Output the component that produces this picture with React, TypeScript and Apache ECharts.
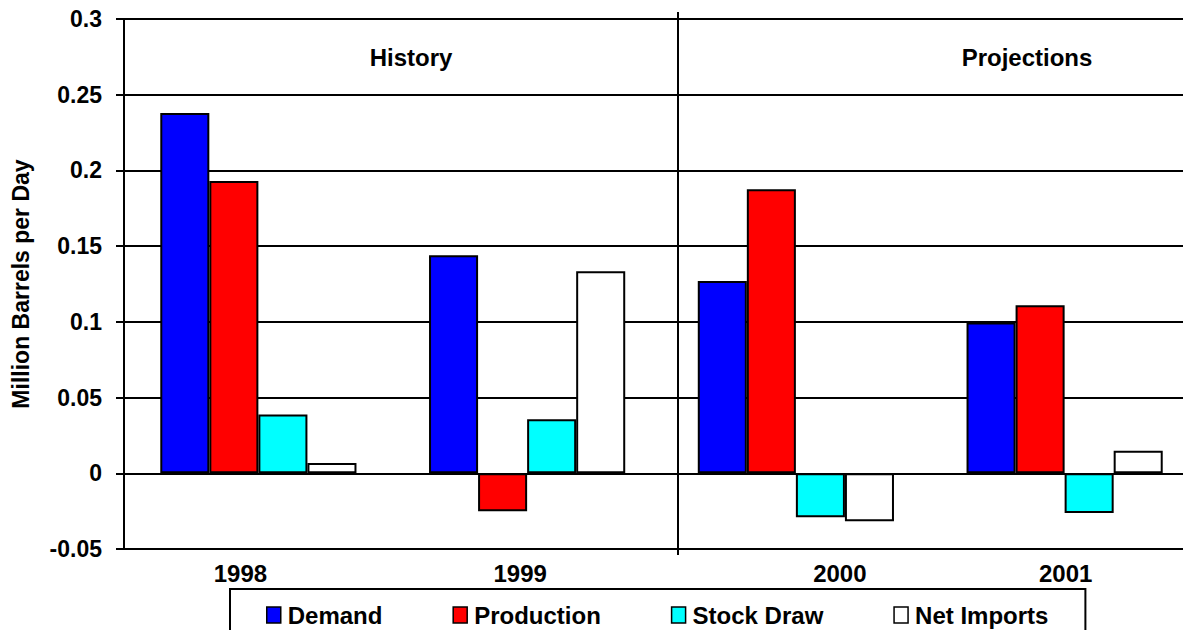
import React, { useEffect, useRef } from "react";
import * as echarts from "echarts";

const years = ["1998", "1999", "2000", "2001"];
const demand = [0.238, 0.144, 0.127, 0.0995];
const production = [0.193, -0.025, 0.1875, 0.111];
const stockDraw = [0.0388, 0.0357, -0.029, -0.0262];
const netImports = [0.0068, 0.1334, -0.0317, 0.0148];
const seriesNames = ["Demand", "Production", "Stock Draw", "Net Imports"];
const seriesColors = ["#0000FF", "#FF0000", "#00FFFF", "#FFFFFF"];
const periodTitles = ["History", "Projections"];
const yAxisTitle = "Million Barrels per Day";
const yMin = -0.05;
const yMax = 0.3;
const yStep = 0.05;

const FONT = '"Liberation Sans", Arial, sans-serif';
const labelShift = [-18, -7, 44, 1];

export default function App() {
  const ref = useRef<HTMLDivElement>(null);
  useEffect(() => {
    if (!ref.current) return;
    const chart = echarts.init(ref.current, null, { renderer: "svg" });
    const allSeries = [demand, production, stockDraw, netImports];
    const rich: Record<string, any> = {};
    labelShift.forEach((s, i) => {
      rich["l" + i] = {
        fontFamily: FONT,
        fontWeight: "bold",
        fontSize: 24,
        color: "#000",
        padding: s < 0 ? [0, -2 * s, 0, 0] : [0, 0, 0, 2 * s],
      };
    });
    chart.setOption({
      animation: false,
      backgroundColor: "#fff",
      title: [
        {
          text: periodTitles[0],
          left: 411,
          top: 45,
          textAlign: "center",
          padding: 0,
          textStyle: { fontFamily: FONT, fontWeight: "bold", fontSize: 24, color: "#000" },
        },
        {
          text: periodTitles[1],
          left: 1027,
          top: 45,
          textAlign: "center",
          padding: 0,
          textStyle: { fontFamily: FONT, fontWeight: "bold", fontSize: 24, color: "#000" },
        },
      ],
      legend: {
        left: 230,
        top: 589,
        orient: "horizontal",
        data: seriesNames,
        icon: "rect",
        itemWidth: 14,
        itemHeight: 16,
        itemGap: 70,
        padding: [14, 37, 14, 36],
        borderColor: "#000",
        borderWidth: 2,
        borderRadius: 0,
        backgroundColor: "#fff",
        selectedMode: false,
        itemStyle: { borderColor: "#000", borderWidth: 1.5 },
        textStyle: {
          fontFamily: FONT,
          fontWeight: "bold",
          fontSize: 24,
          color: "#000",
          padding: [0, 0, 0, 2],
        },
      },
      grid: {
        left: 124,
        right: -16,
        top: 19,
        bottom: 81,
        containLabel: false,
        outerBoundsMode: "none",
      },
      xAxis: {
        type: "category",
        data: years,
        axisLine: { show: true, onZero: false, lineStyle: { color: "#000", width: 2 } },
        axisTick: { show: false },
        axisLabel: {
          margin: 12,
          interval: 0,
          formatter: (v: string, i: number) => `{l${i}|${v}}`,
          rich,
        },
        splitLine: { show: false },
      },
      yAxis: {
        type: "value",
        min: yMin,
        max: yMax,
        interval: yStep,
        name: yAxisTitle,
        nameLocation: "middle",
        nameGap: 92,
        nameTextStyle: { fontFamily: FONT, fontWeight: "bold", fontSize: 23, color: "#000" },
        axisLine: { show: true, lineStyle: { color: "#000", width: 2 } },
        axisTick: { show: true, inside: false, length: 8, lineStyle: { color: "#000", width: 2 } },
        axisLabel: {
          margin: 22,
          fontFamily: FONT,
          fontWeight: "bold",
          fontSize: 23,
          color: "#000",
          formatter: (v: number) => String(parseFloat(v.toFixed(3))),
        },
        splitLine: { show: true, lineStyle: { color: "#000", width: 2 } },
      },
      series: seriesNames.map((name, i) => ({
        name,
        type: "bar",
        data: allSeries[i],
        barGap: "0%",
        barCategoryGap: "27%",
        itemStyle: { color: seriesColors[i], borderColor: "#000", borderWidth: 2 },
      })),
      graphic: [
        {
          type: "line",
          shape: { x1: 678, y1: 12, x2: 678, y2: 555 },
          style: { stroke: "#000", lineWidth: 2 },
          z: 10,
        },
      ],
    });
    return () => chart.dispose();
  }, []);
  return (
    <div
      ref={ref}
      style={{ position: "fixed", left: 0, top: 0, width: 1183, height: 630, background: "#fff" }}
    />
  );
}
